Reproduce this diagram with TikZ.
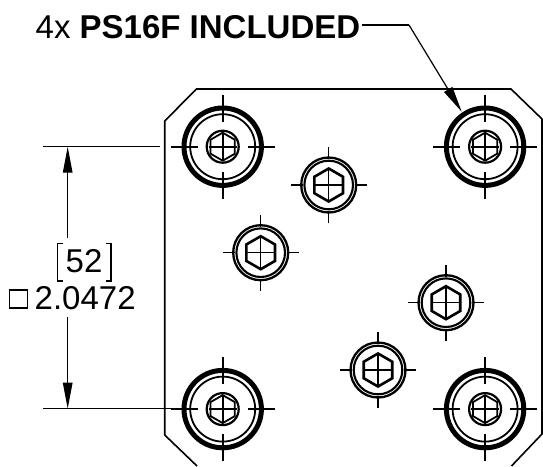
\documentclass[tikz,border=0pt]{standalone}
\usepackage{fontspec}
\setmainfont{Liberation Sans}
\usetikzlibrary{positioning}
\usetikzlibrary{arrows.meta,shapes.geometric}
\tikzstyle{screw point}=[inner sep=0pt,minimum size=0pt]
\tikzstyle{plate edge}=[line width=1.6pt,line join=miter]
\tikzstyle{thin edge}=[line width=1.3pt]
\tikzstyle{heavy edge}=[line width=5pt]
\tikzstyle{medium edge}=[line width=1.8pt]
\tikzstyle{leader line}=[-{Triangle[length=26pt,width=9.5pt]},line width=1.2pt]
\tikzstyle{drawing text}=[inner sep=0pt,anchor=base west,font=\fontsize{33}{33}\selectfont]
\tikzstyle{hex head}=[regular polygon,regular polygon sides=6,shape border rotate=30,draw,inner sep=0pt]
\newcommand{\bigscrew}[2][]{
  \node [screw point, #1] (#2) {};
  \draw[heavy edge] (#2) circle (38.7pt);
  \draw[medium edge] (#2) circle (32.5pt);
  \draw[line width=2.2pt] (#2) circle (16pt);
  \node [hex head, medium edge, minimum size=28pt] at (#2) {};
  \draw[medium edge] (#2) ++(-52pt,0) -- ++(27pt,0) ++(50pt,0) -- ++(27pt,0);
  \draw[medium edge] (#2) ++(0,-52pt) -- ++(0,27pt) ++(0,50pt) -- ++(0,27pt);
  \draw[medium edge] (#2) ++(-14pt,0) -- ++(28pt,0);
  \draw[medium edge] (#2) ++(0,-14pt) -- ++(0,28pt);
}
\newcommand{\smallscrew}[2][]{
  \node [screw point, #1] (#2) {};
  \draw[line width=2.3pt] (#2) circle (27.5pt);
  \draw[line width=2.1pt] (#2) circle (24.3pt);
  \node [hex head, line width=2.6pt, minimum size=33pt] at (#2) {};
  \draw[thin edge] (#2) ++(-38pt,0) -- ++(12pt,0) ++(52pt,0) -- ++(12pt,0);
  \draw[thin edge] (#2) ++(0,-38pt) -- ++(0,12pt) ++(0,52pt) -- ++(0,12pt);
  \draw[thin edge] (#2) ++(-15pt,0) -- ++(30pt,0);
  \draw[thin edge] (#2) ++(0,-15pt) -- ++(0,30pt);
}

\begin{document}
\begin{tikzpicture}[x=1pt,y=-1pt,node distance=1cm]
  \useasboundingbox (0,0) rectangle (543,466);

  \draw[plate edge] (197,466) -- (164.7,435) -- (164.7,121) -- (196.5,89) -- (511,89) -- (542,119) -- (542,434) -- (511.5,466);

  \bigscrew[at={(222.7,146.7)}]{tl};
  \bigscrew[right=262pt of tl]{tr};
  \bigscrew[below=262pt of tl]{bl};
  \bigscrew[right=262pt of bl]{br};

  \smallscrew[at={(328.7,185)}]{sa};
  \smallscrew[at={(260.7,252.7)}]{sb};
  \smallscrew[at={(446,302.7)}]{sc};
  \smallscrew[at={(378,370)}]{sd};

  % note
  \node [drawing text,font=\fontsize{33}{33}\selectfont] (note) at (35.5,38.5) {4x \textbf{PS16F INCLUDED}};
  \coordinate (noteend) at (361.5,25);
  \coordinate (notebend) at (409,25);
  \coordinate (notetip) at (461.7,111.7);
  \draw[thin edge] (noteend) -- (notebend);
  \draw[leader line] (notebend) -- (notetip);

  % dimension
  \coordinate (exttop) at (43,146.7);
  \coordinate (extbot) at (43,408.7);
  \coordinate (exttopend) at (160,146.7);
  \coordinate (extbotend) at (171,408.7);
  \coordinate (arrowtop) at (67.7,146.7);
  \coordinate (arrowbot) at (67.7,408.7);
  \coordinate (gaptop) at (67.7,238);
  \coordinate (gapbot) at (67.7,316.7);
  \draw[thin edge] (exttop) -- (exttopend);
  \draw[thin edge] (extbot) -- (extbotend);
  \draw[leader line] (gaptop) -- (arrowtop);
  \draw[leader line] (gapbot) -- (arrowbot);

  \node [drawing text] (nominal) at (65.5,272) {52};
  \node [drawing text] (value) at (34.5,309) {2.0472};
  \draw[thin edge] (63,243.5) -- (57.5,243.5) -- (57.5,281) -- (63,281);
  \draw[thin edge] (105.5,243.5) -- (111,243.5) -- (111,281) -- (105.5,281);
  \node [draw,thin edge,inner sep=0pt,minimum size=18pt] (boxsym) at (18.7,299) {};
\end{tikzpicture}
\end{document}
